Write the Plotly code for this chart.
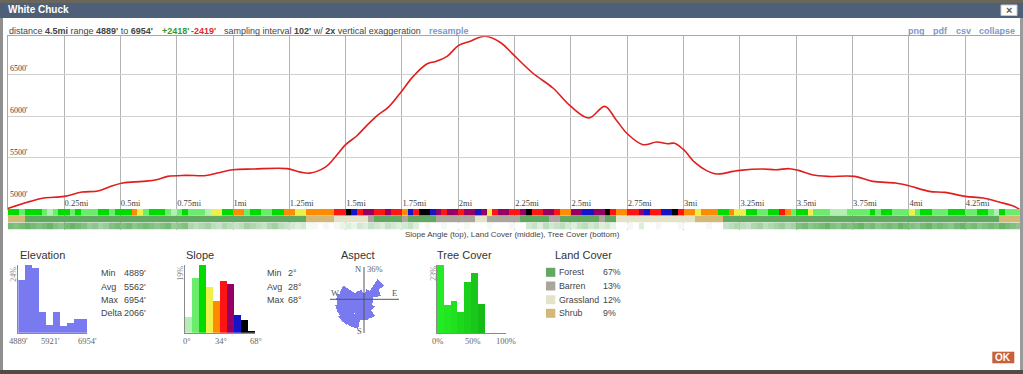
import plotly.graph_objects as go

W, H = 1023, 374
SANS = "Liberation Sans, Arial, sans-serif"
SERIF = "Liberation Serif, Times New Roman, serif"


def px(x):
    return x / W


def py(y):
    return 1 - y / H


# ---------------- data ----------------
dist_mi = [0.00, 0.10, 0.16, 0.25, 0.33, 0.40, 0.45, 0.51, 0.60, 0.66,
           0.71, 0.79, 0.88, 0.93, 1.00, 1.09, 1.24, 1.30, 1.34, 1.41,
           1.45, 1.50, 1.55, 1.59, 1.64, 1.69, 1.74, 1.80, 1.86, 1.90,
           1.95, 2.00, 2.05, 2.12, 2.19, 2.24, 2.33, 2.42, 2.50, 2.58,
           2.65, 2.70, 2.75, 2.82, 2.88, 2.93, 2.96, 3.00, 3.05, 3.10,
           3.15, 3.22, 3.25, 3.35, 3.41, 3.47, 3.51, 3.57, 3.64, 3.76,
           3.84, 3.94, 4.00, 4.09, 4.16, 4.25, 4.33, 4.40, 4.46, 4.49]
elev_ft = [4895, 4980, 5020, 5040, 5092, 5104, 5152, 5199, 5219, 5239,
           5279, 5291, 5289, 5319, 5359, 5367, 5372, 5330, 5318, 5390,
           5498, 5658, 5765, 5877, 6005, 6108, 6268, 6475, 6623, 6654,
           6714, 6842, 6893, 6954, 6874, 6746, 6515, 6336, 6115, 5977,
           6116, 5957, 5789, 5658, 5690, 5670, 5674, 5598, 5446, 5351,
           5307, 5339, 5351, 5367, 5359, 5371, 5351, 5299, 5279, 5279,
           5219, 5199, 5167, 5100, 5088, 5040, 5020, 4972, 4928, 4889]

x_tick_vals = [0.25, 0.5, 0.75, 1, 1.25, 1.5, 1.75, 2, 2.25, 2.5, 2.75,
               3, 3.25, 3.5, 3.75, 4, 4.25]
x_tick_text = ["0.25mi", "0.5mi", "0.75mi", "1mi", "1.25mi", "1.5mi", "1.75mi",
               "2mi", "2.25mi", "2.5mi", "2.75mi", "3mi", "3.25mi", "3.5mi",
               "3.75mi", "4mi", "4.25mi"]
y_tick_vals = [5000, 5500, 6000, 6500]
y_tick_text = ["5000'", "5500'", "6000'", "6500'"]

cell_mi = 0.025
# slope class per cell (0 = gentlest ... 9 = steepest)
slope_class = [
    2, 2, 1, 2, 2, 2, 1, 0, 1, 2, 2, 1, 2, 1, 1, 1, 2, 2, 1, 2,
    2, 2, 4, 3, 1, 2, 2, 2, 1, 0, 1, 2, 1, 1, 1, 0, 3, 3, 2, 2,
    4, 4, 1, 2, 2, 1, 1, 2, 2, 4, 4, 3, 3, 4, 4, 4, 4, 4, 5, 5,
    8, 7, 5, 6, 6, 5, 5, 6, 5, 5, 4, 7, 5, 8, 8, 7, 6, 5, 6, 6,
    5, 6, 6, 7, 6, 3, 5, 6, 6, 5, 5, 6, 8, 5, 5, 6, 6, 5, 4, 4,
    6, 6, 7, 7, 6, 6, 8, 5, 4, 4, 5, 5, 6, 7, 5, 5, 7, 7, 8, 5,
    4, 4, 3, 4, 4, 4, 2, 2, 4, 3, 3, 2, 2, 1, 1, 2, 2, 5, 4, 1,
    2, 2, 3, 1, 1, 1, 0, 0, 0, 1, 1, 1, 1, 2, 1, 2, 2, 1, 1, 1,
    3, 1, 2, 2, 1, 1, 1, 2, 2, 2, 1, 1, 2, 2, 1, 0, 2, 1, 1, 1]
# land cover per cell (0 Forest, 1 Barren, 2 Grassland, 3 Shrub)
land_class = [
    3, 3, 3, 0, 0, 0, 0, 0, 0, 0, 0, 0, 0, 0, 0, 0, 0, 0, 0, 0,
    0, 0, 0, 0, 0, 0, 0, 0, 0, 0, 0, 0, 0, 0, 0, 0, 0, 0, 0, 0,
    0, 0, 0, 0, 0, 0, 0, 0, 0, 0, 0, 0, 0, 3, 3, 3, 3, 3, 2, 2,
    2, 2, 2, 2, 1, 0, 0, 0, 0, 0, 1, 0, 0, 0, 0, 0, 1, 1, 1, 1,
    1, 1, 1, 2, 2, 1, 1, 1, 1, 1, 1, 0, 0, 0, 0, 0, 1, 1, 0, 0,
    0, 0, 0, 0, 0, 1, 0, 0, 2, 2, 2, 2, 2, 2, 2, 2, 2, 2, 2, 2,
    2, 2, 3, 3, 3, 3, 3, 0, 0, 0, 0, 0, 0, 0, 0, 0, 0, 0, 0, 0,
    0, 0, 0, 0, 0, 0, 0, 0, 0, 0, 0, 0, 0, 0, 0, 0, 0, 0, 0, 0,
    0, 0, 0, 0, 0, 0, 0, 0, 0, 0, 0, 0, 0, 0, 0, 0, 3, 3, 3, 3]
# tree cover percent per cell
tree_pct = [
    60, 55, 60, 65, 60, 55, 60, 65, 55, 50, 60, 65, 60, 55, 45, 50, 40, 45, 55, 60,
    55, 60, 50, 55, 60, 55, 50, 55, 60, 45, 50, 55, 35, 30, 35, 40, 30, 25, 35, 30,
    25, 30, 40, 35, 30, 25, 35, 40, 30, 25, 20, 15, 20, 5, 5, 0, 5, 0, 5, 10,
    15, 10, 20, 15, 25, 20, 15, 25, 20, 15, 20, 25, 15, 0, 5, 0, 0, 5, 0, 0,
    0, 5, 0, 0, 0, 5, 0, 0, 0, 5, 0, 0, 20, 25, 15, 30, 20, 25, 30, 20,
    15, 25, 30, 20, 25, 15, 20, 10, 0, 0, 5, 0, 15, 0, 0, 5, 0, 0, 0, 5,
    0, 0, 0, 0, 5, 0, 0, 25, 30, 35, 30, 25, 35, 40, 30, 35, 40, 45, 35, 40,
    55, 60, 50, 55, 60, 65, 55, 50, 60, 55, 60, 65, 55, 60, 50, 55, 60, 55, 65, 60,
    55, 50, 60, 65, 55, 60, 55, 50, 60, 65, 55, 60, 50, 55, 60, 55, 65, 60, 55, 50]
assert len(slope_class) == len(land_class) == len(tree_pct) == 180

slope_colors = ["#b2f0b2", "#6cec6c", "#00dc00", "#eef04a", "#ff8c00",
                "#ff1414", "#960064", "#1414c8", "#000000", "#000000"]
land_names = ["Forest", "Barren", "Grassland", "Shrub"]
land_colors = ["#62a862", "#aaa69c", "#e4e2c8", "#d4b878"]
land_pct = ["67%", "13%", "12%", "9%"]

elev_hist = [18.7, 24.0, 22.8, 7.2, 2.7, 7.2, 2.4, 3.5, 4.8, 4.8]
elev_stats_lbl = ["Min", "Avg", "Max", "Delta"]
elev_stats_val = ["4889'", "5562'", "6954'", "2066'"]
slope_hist = [4.5, 15.4, 19.0, 12.7, 8.9, 14.6, 13.8, 4.9, 3.6, 0.5]
slope_stats_lbl = ["Min", "Avg", "Max"]
slope_stats_val = ["2°", "28°", "68°"]
tree_hist = [23.0, 9.5, 11.0, 7.3, 17.4, 20.4, 9.8, 0, 0, 0]
tree_colors = ["#24ec24", "#22e622", "#20e020", "#1ed81e", "#1bd01b",
               "#19c619", "#16bc16", "#14b214", "#12a812", "#109e10"]
aspect_dir = [0, 22.5, 45, 67.5, 90, 112.5, 135, 157.5,
              180, 202.5, 225, 247.5, 270, 292.5, 315, 337.5]
aspect_pct = [7, 12, 28, 20, 11, 11, 15, 23, 24, 35, 36, 34, 32, 29, 12, 11]

HIST_BLUE = "#7a7af0"

fig = go.Figure()

# ---------------- elevation profile ----------------
fig.add_trace(go.Scatter(x=dist_mi, y=elev_ft, mode="lines",
                         line=dict(color="#e01e1e", width=1.6, shape="spline", smoothing=1),
                         xaxis="x", yaxis="y", hoverinfo="skip"))

cells_x = [(i + 0.5) * cell_mi for i in range(len(slope_class))]


def discrete_scale(colors):
    n = len(colors)
    sc = []
    for i, c in enumerate(colors):
        sc.append([i / n, c])
        sc.append([(i + 1) / n, c])
    return sc


fig.add_trace(go.Heatmap(x=cells_x, y=[0], z=[slope_class], zmin=-0.5,
                         zmax=len(slope_colors) - 0.5,
                         colorscale=discrete_scale(slope_colors), showscale=False,
                         xaxis="x", yaxis="y2", hoverinfo="skip"))
fig.add_trace(go.Heatmap(x=cells_x, y=[0], z=[land_class], zmin=-0.5,
                         zmax=len(land_colors) - 0.5,
                         colorscale=discrete_scale(land_colors), showscale=False,
                         xaxis="x", yaxis="y3", hoverinfo="skip"))
fig.add_trace(go.Heatmap(x=cells_x, y=[0], z=[tree_pct], zmin=0, zmax=100,
                         colorscale=[[0, "#ffffff"], [1, "#1a8c1a"]], showscale=False,
                         xaxis="x", yaxis="y4", hoverinfo="skip"))

# ---------------- histograms ----------------
bins = [i + 0.5 for i in range(10)]
fig.add_trace(go.Bar(x=bins, y=elev_hist, width=1, marker=dict(color=HIST_BLUE, line_width=0),
                     xaxis="x2", yaxis="y5", hoverinfo="skip"))
fig.add_trace(go.Bar(x=bins, y=slope_hist, width=1, marker=dict(color=slope_colors, line_width=0),
                     xaxis="x3", yaxis="y6", hoverinfo="skip"))
fig.add_trace(go.Bar(x=bins, y=tree_hist, width=1, marker=dict(color=tree_colors, line_width=0),
                     xaxis="x4", yaxis="y7", hoverinfo="skip"))

# aspect rose
fig.add_trace(go.Barpolar(theta=aspect_dir, r=aspect_pct, width=[22.5] * len(aspect_dir),
                          marker=dict(color=HIST_BLUE, line_width=0), hoverinfo="skip"))

# ---------------- layout ----------------
x_left, x_right = 7.7, 1020.0
x_max = (x_right - x_left) / 225.3

hidden_y = dict(visible=False, range=[-0.5, 0.5], anchor="x", fixedrange=True)


def hist_x(x0, x1, anchor):
    return dict(domain=[px(x0), px(x1)], range=[0, 10], anchor=anchor, showgrid=False,
                zeroline=False, showticklabels=False, ticks="", showline=True,
                linecolor="#8a8a8a", linewidth=1, fixedrange=True)


def hist_y(ytop_val, anchor, y0=332.7, y1=265):
    return dict(domain=[py(y0), py(y1)], range=[0, ytop_val], anchor=anchor, showgrid=False,
                zeroline=False, showticklabels=False, ticks="", showline=True,
                linecolor="#8a8a8a", linewidth=1, fixedrange=True)


layout = dict(
    width=W, height=H, margin=dict(l=0, r=0, t=0, b=0),
    paper_bgcolor="#ffffff", plot_bgcolor="rgba(0,0,0,0)",
    showlegend=False, bargap=0, hovermode=False,
    font=dict(family=SANS, size=9, color="#444"),
    xaxis=dict(domain=[px(x_left), px(x_right)], range=[0, x_max], anchor="y",
               tickvals=x_tick_vals, ticktext=x_tick_text, ticklabelposition="inside right",
               ticklabelstandoff=-3,
               tickfont=dict(family=SERIF, size=8.5, color="#444"), ticks="",
               showgrid=True, gridcolor="#b4b4b4", gridwidth=1, zeroline=False,
               showline=True, mirror=True, linecolor="#a8a8a8", linewidth=1, fixedrange=True),
    yaxis=dict(domain=[py(209), py(36.3)], range=[4889, 6954], anchor="x",
               tickvals=y_tick_vals, showticklabels=False, ticks="",
               showgrid=True, gridcolor="#cfcfcf", gridwidth=1, zeroline=False,
               showline=True, mirror=True, linecolor="#a8a8a8", linewidth=1, fixedrange=True),
    yaxis2=dict(hidden_y, domain=[py(215.5), py(209)]),
    yaxis3=dict(hidden_y, domain=[py(222.5), py(215.5)]),
    yaxis4=dict(hidden_y, domain=[py(229.5), py(222.5)]),
    xaxis2=hist_x(18.3, 87.3, "y5"),
    yaxis5=hist_y(24, "x2"),
    xaxis3=hist_x(185, 255, "y6"),
    yaxis6=hist_y(19, "x3"),
    xaxis4=hist_x(436.7, 505.7, "y7"),
    yaxis7=hist_y(23, "x4", y0=333.3),
    polar=dict(domain=dict(x=[px(333), px(395)], y=[py(330.3), py(268.3)]),
               bgcolor="rgba(0,0,0,0)", hole=0,
               radialaxis=dict(visible=False, range=[0, 36]),
               angularaxis=dict(visible=False, rotation=90, direction="clockwise")),
)

shapes = []


def rect(x0, y0, x1, y1, fill, line=None, layer="above"):
    shapes.append(dict(type="rect", xref="paper", yref="paper", x0=px(x0), x1=px(x1),
                       y0=py(y1), y1=py(y0), fillcolor=fill, layer=layer,
                       line=dict(width=1 if line else 0, color=line or fill)))


def hline(x0, x1, y, color="#555", width=1):
    shapes.append(dict(type="line", xref="paper", yref="paper", x0=px(x0), x1=px(x1),
                       y0=py(y), y1=py(y), line=dict(color=color, width=width)))


def vline(x, y0, y1, color="#555", width=1):
    shapes.append(dict(type="line", xref="paper", yref="paper", x0=px(x), x1=px(x),
                       y0=py(y0), y1=py(y1), line=dict(color=color, width=width)))


# window chrome
rect(0, 0, W, 3, "#6a665b")
rect(0, 3, W, 18, "#4e6077")
rect(0, 18, 3, 370, "#8f8f8f")
rect(1020, 18, W, 370, "#9a9a9a")
rect(0, 370, W, H, "#524b44")
rect(1001, 5, 1017, 15.5, "#ffffff", line="#c8c8c8")
rect(992.3, 351.7, 1014.3, 363.3, "#c6613a")

# compass cross
hline(330, 399, 299.3, "#555")
vline(364, 267, 333, "#555")

# land cover legend swatches
legend_rows = [272.3, 286, 299.7, 313.3]
for yy, c in zip(legend_rows, land_colors):
    rect(546, yy - 4.5, 555.3, yy + 4.5, c)

layout["shapes"] = shapes

anns = []


def T(x, y, text, size=9, color="#444", family=SANS, xanchor="left", yanchor="middle", angle=0):
    anns.append(dict(x=px(x), y=py(y), xref="paper", yref="paper", text=text, showarrow=False,
                     font=dict(size=size, color=color, family=family), xanchor=xanchor,
                     yanchor=yanchor, textangle=angle, borderpad=0))


# profile y tick labels, placed on the y axis scale
for v, t in zip(y_tick_vals, y_tick_text):
    anns.append(dict(x=0, y=v, xref="x", yref="y", text=t, showarrow=False,
                     font=dict(size=8, color="#444", family=SERIF), xanchor="left",
                     yanchor="bottom", xshift=1.5, yshift=0, borderpad=0))

# title bar
T(7, 10, "<b>White Chuck</b>", size=10, color="#ffffff")
T(1009, 10, "<b>×</b>", size=11, color="#555", xanchor="center")

# header line
T(7.5, 30.7, "distance <b>4.5mi</b> range <b>4889'</b> to <b>6954'</b>", color="#444")
T(161, 30.7, "<b>+2418'</b>", color="#2f9a2f")
T(189.5, 30.7, "<b>-2419'</b>", color="#e02a2a")
T(222.5, 30.7, "sampling interval <b>102'</b> w/ <b>2x</b> vertical exaggeration", color="#444")
T(427.5, 30.7, "<b>resample</b>", color="#7b98cc")
for xx, t in [(906.5, "png"), (932, "pdf"), (954.7, "csv"), (978, "collapse")]:
    T(xx, 30.7, "<b>" + t + "</b>", color="#7b98cc")

# band caption
T(512, 234.5, "Slope Angle (top), Land Cover (middle), Tree Cover (bottom)", size=8,
  color="#444", xanchor="center")

# section titles
for xx, t in [(18.5, "Elevation"), (185.2, "Slope"), (340.2, "Aspect"),
              (436.2, "Tree Cover"), (553.5, "Land Cover")]:
    T(xx, 255, t, size=11, color="#333")

# elevation stats
stat_rows = [273.3, 286.7, 300, 313.3]
for yy, l, v in zip(stat_rows, elev_stats_lbl, elev_stats_val):
    T(99.5, yy, l)
    T(122.8, yy, v)
for yy, l, v in zip(stat_rows, slope_stats_lbl, slope_stats_val):
    T(266.2, yy, l)
    T(286.8, yy, v)

# histogram axis labels
for xx, t in [(18.3, "4889'"), (50.8, "5921'"), (87.5, "6954'")]:
    T(xx, 340.7, t, size=8.5, color="#666", family=SERIF, xanchor="center")
for xx, t in [(186.5, "0°"), (220.5, "34°"), (255.5, "68°")]:
    T(xx, 340.7, t, size=8.5, color="#666", family=SERIF, xanchor="center")
for xx, t in [(437, "0%"), (472.5, "50%"), (505.8, "100%")]:
    T(xx, 340.7, t, size=8.5, color="#666", family=SERIF, xanchor="center")
T(12.7, 274, "24%", size=8, color="#888", family=SERIF, xanchor="center", angle=-90)
T(179.7, 273, "19%", size=8, color="#888", family=SERIF, xanchor="center", angle=-90)
T(432.7, 273, "23%", size=8, color="#888", family=SERIF, xanchor="center", angle=-90)

# aspect labels
T(358, 268.5, "N", size=8.5, color="#555", family=SERIF, xanchor="center")
T(366, 268.5, "36%", size=8.5, color="#666", family=SERIF)
T(334.5, 293.3, "W", size=8.5, color="#555", family=SERIF, xanchor="center")
T(394.7, 293.3, "E", size=8.5, color="#555", family=SERIF, xanchor="center")
T(359.5, 330.7, "S", size=8.5, color="#555", family=SERIF, xanchor="center")

# land cover legend text
for yy, n, p in zip(legend_rows, land_names, land_pct):
    T(558.3, yy, n, size=8.8)
    T(601.8, yy, p, size=8.8)

# OK button
T(1003.3, 357.5, "<b>OK</b>", size=10, color="#ffffff", xanchor="center")

layout["annotations"] = anns
fig.update_layout(**layout)

fig.write_html("out.html", config={"displayModeBar": False, "staticPlot": True},
               post_script="document.body.style.margin='0';"
                           "document.body.style.overflow='hidden';")
